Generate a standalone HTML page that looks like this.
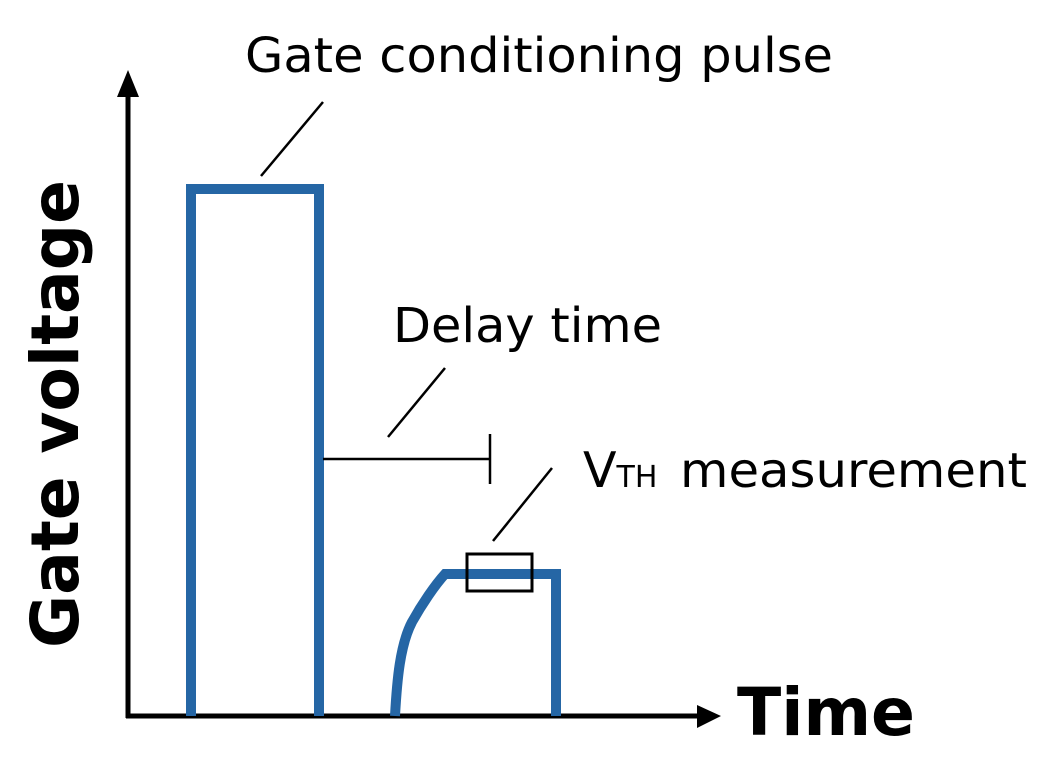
<!DOCTYPE html>
<html><head><style>html,body{margin:0;padding:0;background:#fff}svg{display:block}</style></head>
<body>
<svg width="1060" height="774" viewBox="0 0 1060 774" xmlns="http://www.w3.org/2000/svg" font-family="'DejaVu Sans','Liberation Sans',sans-serif">
<rect width="1060" height="774" fill="#fff"/>
<!-- axes -->
<line x1="128" y1="718" x2="128" y2="90" stroke="#000" stroke-width="5"/>
<polygon points="128,70 117,97 139,97" fill="#000"/>
<line x1="126" y1="716" x2="700" y2="716" stroke="#000" stroke-width="5"/>
<polygon points="721,716 697,705 697,728" fill="#000"/>
<!-- pulses -->
<polyline points="191,716 191,189 319,189 319,716" fill="none" stroke="#2566a5" stroke-width="10"/>
<path d="M395,716 C397,680 400,645 412,622 C422,604 435,585 445,574 L556,574 L556,716" fill="none" stroke="#2566a5" stroke-width="10"/>
<rect x="467" y="554" width="65" height="37" fill="none" stroke="#000" stroke-width="3"/>
<!-- leaders -->
<line x1="261" y1="176" x2="323" y2="102" stroke="#000" stroke-width="2.5"/>
<line x1="388" y1="437" x2="445" y2="368" stroke="#000" stroke-width="2.5"/>
<line x1="323" y1="459" x2="490" y2="459" stroke="#000" stroke-width="2.5"/>
<line x1="490" y1="434" x2="490" y2="484" stroke="#000" stroke-width="2.5"/>
<line x1="493" y1="541" x2="552" y2="468" stroke="#000" stroke-width="2.5"/>
<!-- text -->
<text x="245" y="72" font-size="48" textLength="588" lengthAdjust="spacingAndGlyphs">Gate conditioning pulse</text>
<text x="393" y="342" font-size="48" textLength="269" lengthAdjust="spacingAndGlyphs">Delay time</text>
<text x="583" y="487" font-size="49">V<tspan font-size="30">TH</tspan></text>
<text x="680" y="487" font-size="48" textLength="347" lengthAdjust="spacingAndGlyphs">measurement</text>
<text x="737" y="735" font-size="66" font-weight="bold" textLength="178" lengthAdjust="spacingAndGlyphs">Time</text>
<text transform="translate(78,648) rotate(-90)" font-size="66" font-weight="bold" textLength="468" lengthAdjust="spacingAndGlyphs">Gate voltage</text>
</svg>
</body></html>
